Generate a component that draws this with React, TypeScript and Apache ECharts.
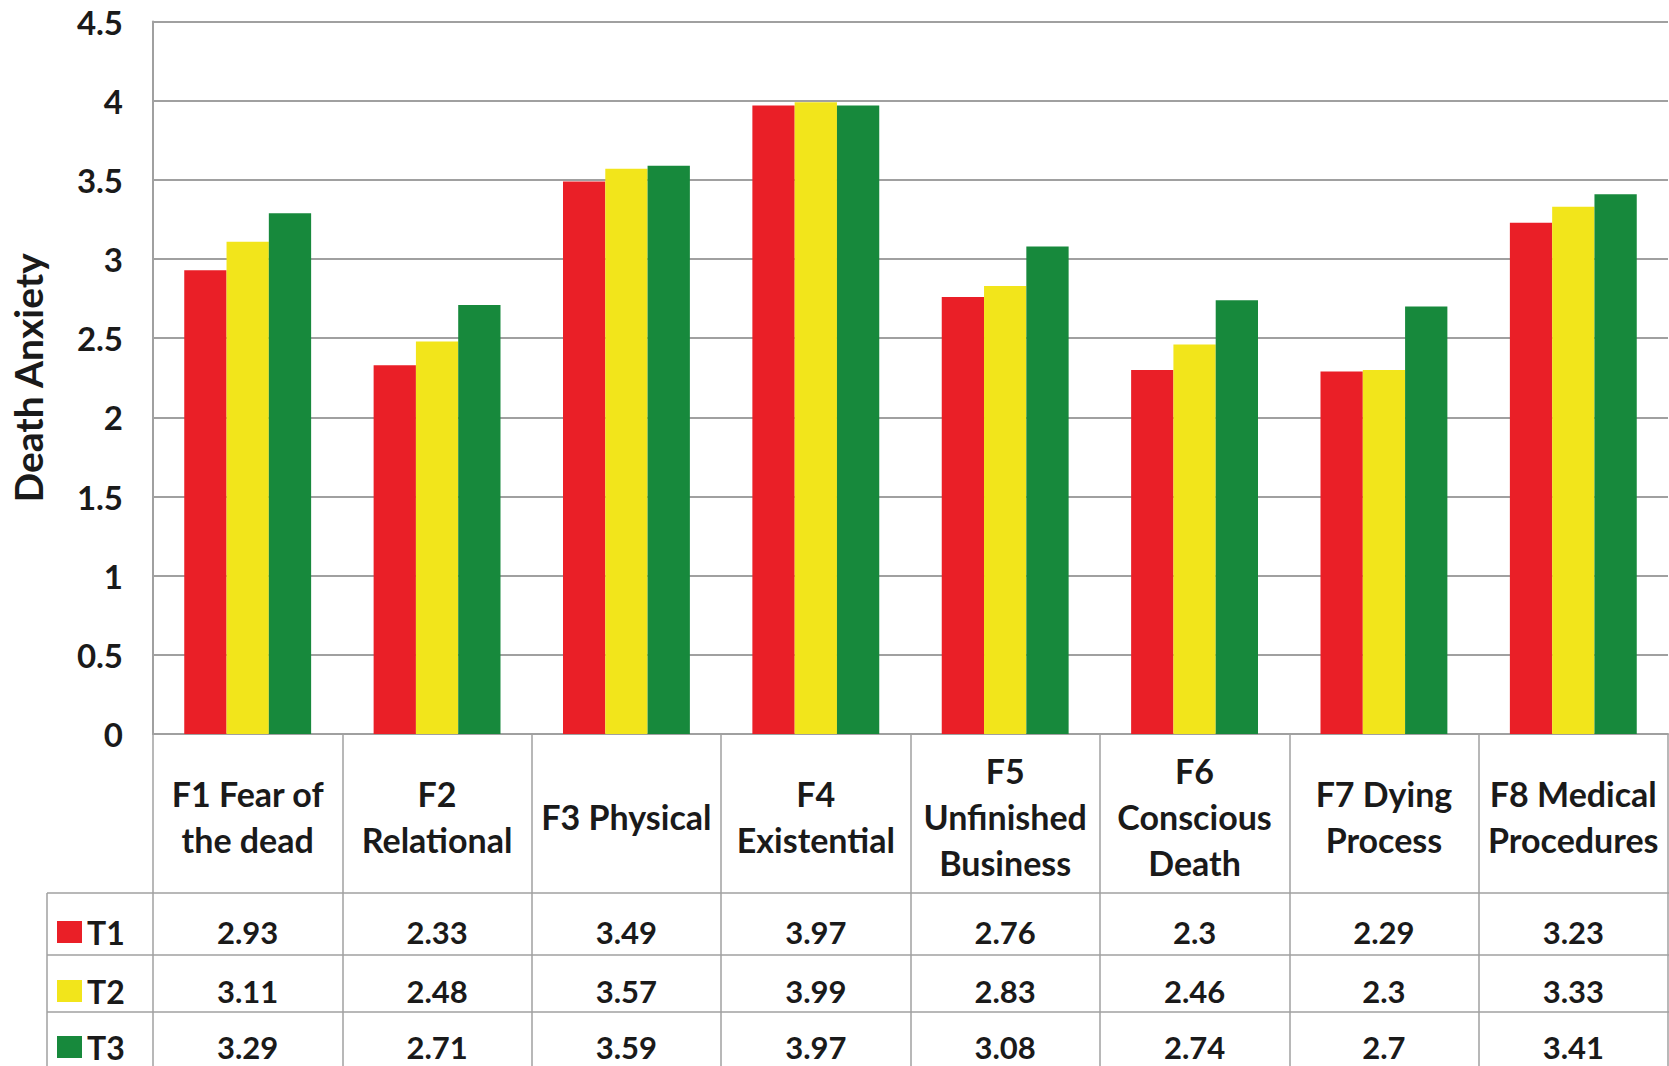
import React, { useEffect, useRef } from "react";
import * as echarts from "echarts";

const categories = [
  "F1 Fear of\nthe dead",
  "F2\nRelational",
  "F3 Physical",
  "F4\nExistential",
  "F5\nUnfinished\nBusiness",
  "F6\nConscious\nDeath",
  "F7 Dying\nProcess",
  "F8 Medical\nProcedures",
];
const seriesNames = ["T1", "T2", "T3"];
const t1 = [2.93, 2.33, 3.49, 3.97, 2.76, 2.3, 2.29, 3.23];
const t2 = [3.11, 2.48, 3.57, 3.99, 2.83, 2.46, 2.3, 3.33];
const t3 = [3.29, 2.71, 3.59, 3.97, 3.08, 2.74, 2.7, 3.41];
const colors = ["#EA1F27", "#F2E51B", "#17893C"];
const yMin = 0;
const yMax = 4.5;
const yInterval = 0.5;

const FONT = "Lato, 'Open Sans', sans-serif";
const LINE = "#a0a0a0";

export default function App() {
  const ref = useRef<HTMLDivElement>(null);
  useEffect(() => {
    if (!ref.current) return;
    const chart = echarts.init(ref.current, null, { renderer: "svg" });
    const rows = [t1, t2, t3];
    const rowOffsets = [198, 257, 313];
    const legendTops = [916, 975, 1031];
    const valueAxes = rows.map((r, i) => ({
      type: "category",
      data: r.map((v) => String(v)),
      position: "bottom",
      offset: rowOffsets[i],
      gridIndex: 0,
      axisLine: { show: false },
      axisTick: { show: false },
      splitLine: { show: false },
      axisLabel: {
        margin: 0,
        verticalAlign: "middle",
        fontFamily: FONT,
        fontWeight: "bold",
        fontSize: 31,
        color: "#1a1a1a",
        interval: 0,
      },
    }));
    chart.setOption({
      animation: false,
      backgroundColor: "#ffffff",
      textStyle: { fontFamily: FONT },
      grid: { left: 142, right: 1, top: 21.6, bottom: 332, containLabel: false },
      legend: seriesNames.map((n, i) => ({
        orient: "horizontal",
        left: 57,
        top: legendTops[i],
        padding: 0,
        itemWidth: 25,
        itemHeight: 22,
        itemGap: 0,
        icon: "rect",
        data: [n],
        textStyle: {
          fontFamily: FONT,
          fontWeight: "bold",
          fontSize: 32,
          color: "#1a1a1a",
        },
        selectedMode: false,
      })),
      xAxis: [
        {
          type: "category",
          data: categories,
          boundaryGap: true,
          axisLine: { show: true, lineStyle: { color: LINE, width: 2 } },
          axisTick: {
            show: true,
            interval: 0,
            length: 332,
            lineStyle: { color: LINE, width: 1.5 },
          },
          axisLabel: {
            interval: 0,
            margin: 82,
            verticalAlign: "middle",
            fontFamily: FONT,
            fontWeight: "bold",
            fontSize: 34,
            lineHeight: 46,
            color: "#1a1a1a",
          },
        },
        ...valueAxes,
      ],
      yAxis: {
        type: "value",
        min: yMin,
        max: yMax,
        interval: yInterval,
        name: "Death Anxiety",
        nameLocation: "middle",
        nameRotate: 90,
        nameGap: 106,
        nameTextStyle: {
          fontFamily: FONT,
          fontWeight: "bold",
          fontSize: 39,
          color: "#1a1a1a",
        },
        axisLine: { show: true, lineStyle: { color: LINE, width: 2 } },
        axisTick: { show: false },
        splitLine: { show: true, lineStyle: { color: LINE, width: 2 } },
        axisLabel: {
          margin: 30,
          fontFamily: FONT,
          fontWeight: "bold",
          fontSize: 33,
          color: "#1a1a1a",
          formatter: (v: number) => String(v),
        },
      },
      series: rows.map((r, i) => ({
        name: seriesNames[i],
        type: "bar",
        data: r,
        xAxisIndex: 0,
        barGap: "0%",
        barCategoryGap: "33%",
        itemStyle: { color: colors[i] },
      })),
      graphic: [
        ...[893, 955, 1012].map((y) => ({
          type: "line",
          shape: { x1: 47, y1: y, x2: 1669, y2: y },
          style: { stroke: LINE, lineWidth: 1.5 },
        })),
        {
          type: "line",
          shape: { x1: 47, y1: 893, x2: 47, y2: 1066 },
          style: { stroke: LINE, lineWidth: 1.5 },
        },
      ],
    });
    return () => chart.dispose();
  }, []);
  return (
    <div
      ref={ref}
      style={{
        position: "fixed",
        left: 0,
        top: 0,
        width: 1669,
        height: 1066,
        background: "#fff",
      }}
    />
  );
}
